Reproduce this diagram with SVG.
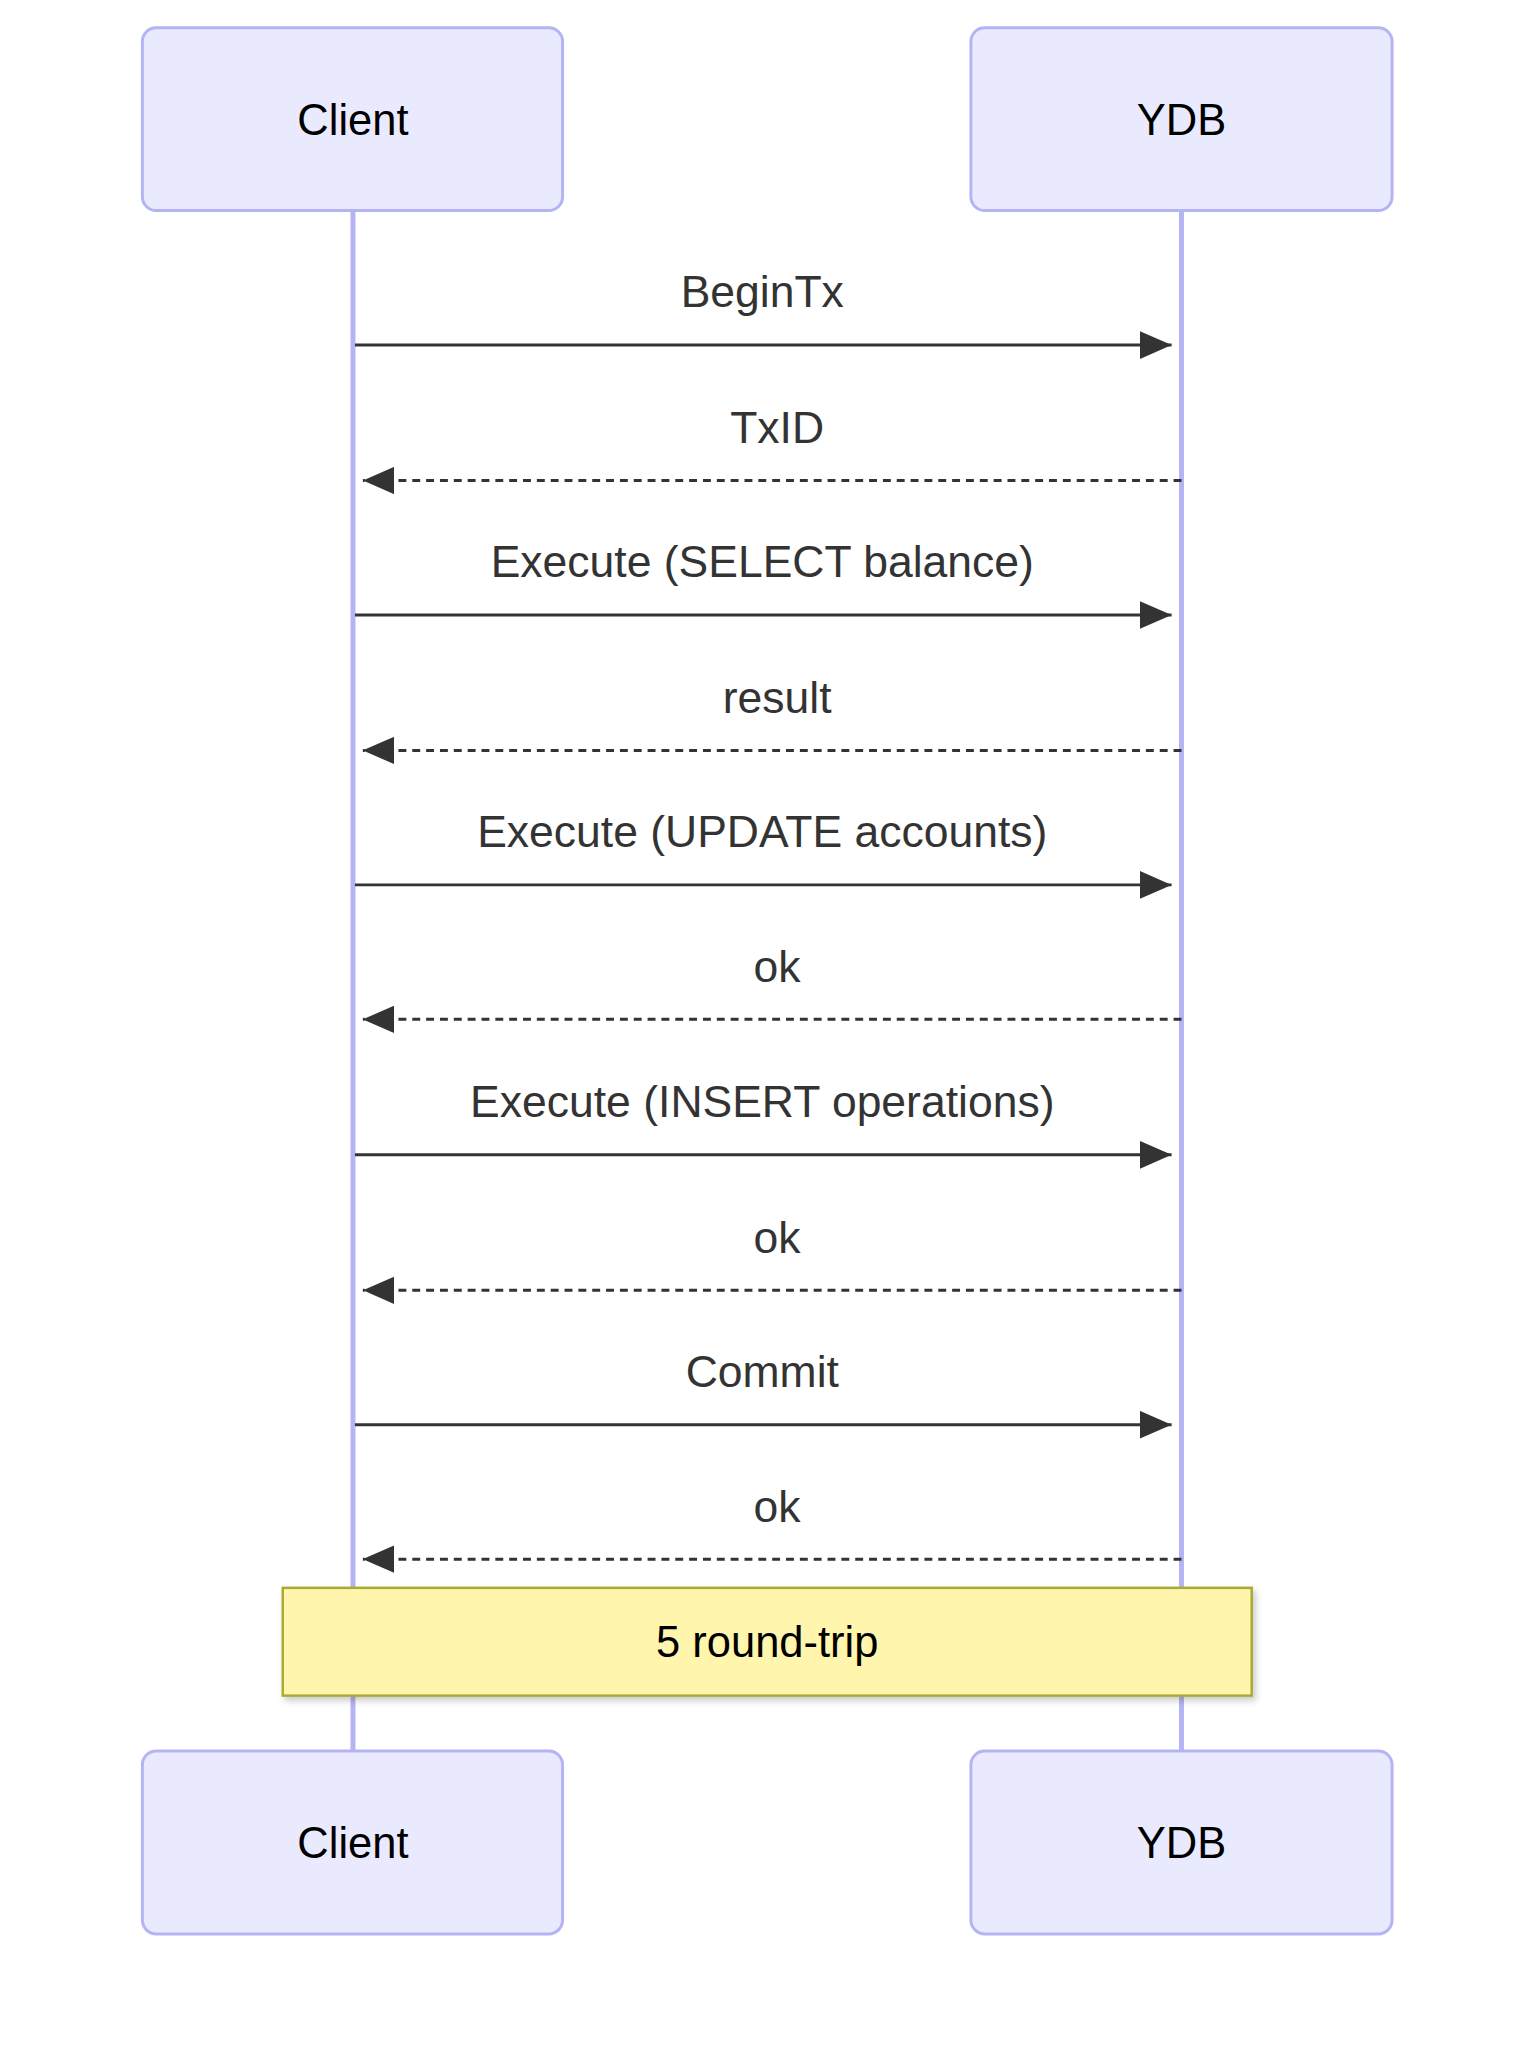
<svg xmlns="http://www.w3.org/2000/svg" width="1534" height="2048" viewBox="0 0 1534 2048">
<style>
.actor{fill:#eaeaff;stroke:#b4b4f5;stroke-width:3}
.at{font-family:"Liberation Sans",Arial,sans-serif;font-size:44px;fill:#000;text-anchor:middle;dominant-baseline:central}
.life{stroke:#b4b4f5;stroke-width:5}
.msg{stroke:#333;stroke-width:3;fill:none}
.dash{stroke-dasharray:8 6}
.lbl{font-family:"Liberation Sans",Arial,sans-serif;font-size:45px;fill:#333;text-anchor:middle}
</style>
<defs>
<marker id="a" viewBox="0 0 32 28" refX="32" refY="14" markerWidth="32" markerHeight="28" markerUnits="userSpaceOnUse" orient="auto"><path d="M0,0L32,14L0,28z" fill="#333"/></marker>
<filter id="sh" x="-5%" y="-20%" width="110%" height="140%"><feDropShadow dx="3" dy="4" stdDeviation="3" flood-color="#000" flood-opacity="0.2"/></filter>
</defs>
<rect width="1534" height="2048" fill="#fff"/>
<g transform="scale(0.9887)">
<g id="lifelines">
<line class="life" x1="357" y1="213" x2="357" y2="1771"/>
<line class="life" x1="1195" y1="213" x2="1195" y2="1771"/>
</g>
<g id="client-top"><rect class="actor" x="144" y="28" width="425" height="185" rx="14"/><text class="at" x="357" y="121">Client</text></g>
<g id="ydb-top"><rect class="actor" x="982" y="28" width="426" height="185" rx="14"/><text class="at" x="1195" y="121">YDB</text></g>
<g id="client-bottom"><rect class="actor" x="144" y="1771" width="425" height="185" rx="14"/><text class="at" x="357" y="1864">Client</text></g>
<g id="ydb-bottom"><rect class="actor" x="982" y="1771" width="426" height="185" rx="14"/><text class="at" x="1195" y="1864">YDB</text></g>
<g id="connectors">
<line class="msg" x1="359" y1="349" x2="1185" y2="349" marker-end="url(#a)"/>
<text class="lbl" x="771" y="311">BeginTx</text>
<line class="msg dash" x1="1195" y1="486" x2="367" y2="486" marker-end="url(#a)"/>
<text class="lbl" x="786" y="448">TxID</text>
<line class="msg" x1="359" y1="622" x2="1185" y2="622" marker-end="url(#a)"/>
<text class="lbl" x="771" y="584">Execute (SELECT balance)</text>
<line class="msg dash" x1="1195" y1="759" x2="367" y2="759" marker-end="url(#a)"/>
<text class="lbl" x="786" y="721">result</text>
<line class="msg" x1="359" y1="895" x2="1185" y2="895" marker-end="url(#a)"/>
<text class="lbl" x="771" y="857">Execute (UPDATE accounts)</text>
<line class="msg dash" x1="1195" y1="1031" x2="367" y2="1031" marker-end="url(#a)"/>
<text class="lbl" x="786" y="993">ok</text>
<line class="msg" x1="359" y1="1168" x2="1185" y2="1168" marker-end="url(#a)"/>
<text class="lbl" x="771" y="1130">Execute (INSERT operations)</text>
<line class="msg dash" x1="1195" y1="1305" x2="367" y2="1305" marker-end="url(#a)"/>
<text class="lbl" x="786" y="1267">ok</text>
<line class="msg" x1="359" y1="1441" x2="1185" y2="1441" marker-end="url(#a)"/>
<text class="lbl" x="771" y="1403">Commit</text>
<line class="msg dash" x1="1195" y1="1577" x2="367" y2="1577" marker-end="url(#a)"/>
<text class="lbl" x="786" y="1539">ok</text>
</g>
<g id="note"><rect x="286" y="1606" width="980" height="109" fill="#fff5ad" stroke="#aaaa33" stroke-width="2.5" filter="url(#sh)"/><text class="at" x="776" y="1661">5 round-trip</text></g>
</g>
</svg>
